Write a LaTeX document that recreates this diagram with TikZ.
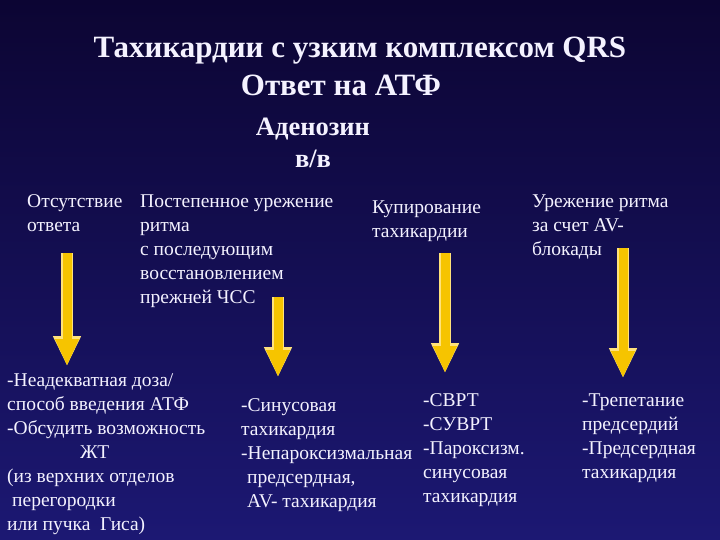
\documentclass[tikz,border=0pt]{standalone}
\usepackage{fontspec}
\setmainfont{Liberation Serif}
\usetikzlibrary{arrows.meta}
\definecolor{bgtop}{HTML}{0C0533}
\definecolor{bgbot}{HTML}{1C1873}
\definecolor{txt}{HTML}{F4F2FF}
\definecolor{arrowfill}{HTML}{F6C400}
\definecolor{arrowedge}{HTML}{FFE27A}
\tikzset{
  body/.style={anchor=base west, inner sep=0pt, text=txt, align=left,
    font=\fontsize{19.5}{24}\selectfont},
  titletext/.style={anchor=base, inner sep=0pt, text=txt,
    font=\bfseries\fontsize{31}{34}\selectfont},
  subtitle/.style={anchor=base, inner sep=0pt, text=txt,
    font=\bfseries\fontsize{26.5}{30}\selectfont},
  yarrowglow/.style={line width=12pt, arrowedge,
    -{Triangle[width=26pt,length=30pt]}},
  yarrow/.style={line width=9pt, arrowfill,
    -{Triangle[width=22pt,length=27pt]}},
}
\begin{document}
\begin{tikzpicture}[x=1pt,y=-1pt]
\useasboundingbox (0,0) rectangle (720,540);
\shade[top color=bgtop, bottom color=bgbot] (0,0) rectangle (720,540);

% titles
\node[titletext] (t1) at (360,58) {Тахикардии с узким комплексом QRS};
\node[titletext] (t2) at (341,96) {Ответ на АТФ};
\node[subtitle] (t3) at (313,136) {Аденозин};
\node[subtitle] (t4) at (313,168) {в/в};

% top labels (anchor = baseline of last line)
\node[body] (c1) at (27,231) {Отсутствие\\ответа};
\node[body] (c2) at (140,303) {Постепенное урежение\\ритма\\с последующим\\восстановлением\\прежней ЧСС};
\node[body] (c3) at (372,237) {Купирование\\тахикардии};
\node[body] (c4) at (532,255) {Урежение ритма\\за счет AV-\\блокады};

% bottom labels
\node[body] (b1) at (7,530) {-Неадекватная доза/\\способ введения АТФ\\-Обсудить возможность\\\hspace*{73pt}ЖТ\\(из верхних отделов\\\hspace*{5pt}перегородки\\или пучка\ \ Гиса)};
\node[body] (b2) at (241,507) {-Синусовая\\тахикардия\\-Непароксизмальная\\\hspace*{6pt}предсердная,\\\hspace*{6pt}AV- тахикардия};
\node[body] (b3) at (423,502) {-СВРТ\\-СУВРТ\\-Пароксизм.\\синусовая\\тахикардия};
\node[body] (b4) at (582,478) {-Трепетание\\предсердий\\-Предсердная\\тахикардия};

% arrows
\coordinate (a1s) at (67,253);  \coordinate (a1e) at (67,366);
\coordinate (a2s) at (278,297); \coordinate (a2e) at (278,377);
\coordinate (a3s) at (445,253); \coordinate (a3e) at (445,373);
\coordinate (a4s) at (623,248); \coordinate (a4e) at (623,378);
\foreach \i in {1,2,3,4}{
  \draw[yarrowglow] (a\i s) -- (a\i e);
  \draw[yarrow] (a\i s) -- (a\i e);
}
\end{tikzpicture}
\end{document}
